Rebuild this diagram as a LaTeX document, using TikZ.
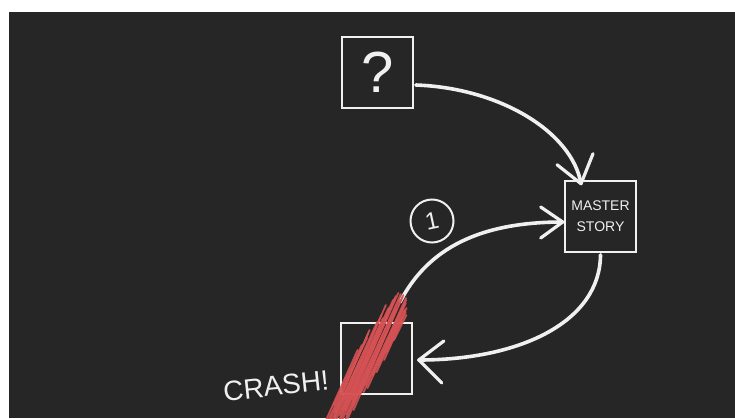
\documentclass[tikz,border=0pt]{standalone}
\usepackage{fontspec}
\setmainfont{Liberation Sans}
\usetikzlibrary{calc}
\definecolor{board}{HTML}{262626}
\definecolor{chalk}{HTML}{F0F0F0}
\definecolor{redchalk}{HTML}{D65254}
\tikzset{
  box/.style={draw=chalk, line width=1.6pt, minimum width=71pt, minimum height=71pt, inner sep=0pt, text=chalk},
  link/.style={draw=chalk, line width=3.6pt, line cap=round},
  barb/.style={draw=chalk, line width=3.2pt, line cap=round},
  scribble/.style={draw=redchalk, line width=1.8pt, line cap=round, opacity=0.9},
}
\begin{document}
\begin{tikzpicture}[x=1pt,y=-1pt]
\useasboundingbox (0,0) rectangle (735,418);
\fill[white] (0,0) rectangle (735,418);
\fill[board] (9,12) rectangle (735,418);

% boxes
\node[box, font=\fontsize{58}{58}\selectfont] (q) at (377.5,72.5) {?};
\node[box, align=center, font=\fontsize{14}{21}\selectfont] (ms) at (600.5,216.5) {MASTER\\STORY};
\node[box] (bot) at (376.5,358.5) {};
\node[draw=chalk, circle, line width=2pt, minimum size=43pt, inner sep=0pt, text=chalk,
      font=\fontsize{24}{24}\selectfont, rotate=12] (one) at (432,221) {1};
\node[text=chalk, font=\fontsize{28}{28}\selectfont, rotate=6, inner sep=1pt] (crash) at (276,386) {CRASH!};

% tips
\coordinate (t1) at ([shift={(-19.5,3.5)}]ms.north);
\coordinate (t2) at ([shift={(-1.5,5.5)}]ms.west);
\coordinate (t3) at ([shift={(6,1.5)}]bot.east);

% arrow 1 : ? -> master story
\draw[link] ([shift={(2,12.5)}]q.east) .. controls (500,88) and (572,132) .. (t1);
\draw[barb] (t1) -- +(-24,-19);
\draw[barb] (t1) -- +(12,-30);

% arrow 2 : crash -> master story
\draw[link] (400,302) .. controls (428,248) and (480,222) .. (t2);
\draw[barb] (t2) -- +(-22,-15);
\draw[barb] (t2) -- +(-22,16);

% arrow 3 : master story -> bottom box
\draw[link] ([shift={(0,2)}]ms.south) .. controls (600,322) and (520,360) .. (t3);
\draw[barb] (t3) -- +(25,-19);
\draw[barb] (t3) -- +(23,23);

% red scribble
\begin{scope}
\clip (9,12) rectangle (735,418);
\foreach \dx/\ya/\yb/\sk in {-16/425/350/0, -14/425/338/2, -12/420/330/-1, -10/425/322/1,
  -8/418/315/0, -6/425/305/-2, -4/410/300/1, -2/425/296/0, 0/420/293/-1, 2/415/294/0,
  4/405/295/1, 6/395/297/-1, 8/385/298/1, 10/375/300/0, 12/365/303/-1, 14/352/308/0,
  16/340/315/1, -15/405/345/1, -11/412/333/-2, -7/400/318/2, -3/425/330/-1, 1/400/300/2,
  5/418/310/-1, 9/392/305/1, 13/372/310/0, -9/425/360/0, 3/425/340/1, 7/410/320/-2,
  11/388/318/1, -5/415/308/1, -1/410/298/-1, 15/360/312/0}
  \draw[scribble] ({343+(418-\ya)*0.45+\dx},\ya) -- ({343+(418-\yb)*0.45+\dx+\sk},\yb);
\end{scope}
\end{tikzpicture}
\end{document}
